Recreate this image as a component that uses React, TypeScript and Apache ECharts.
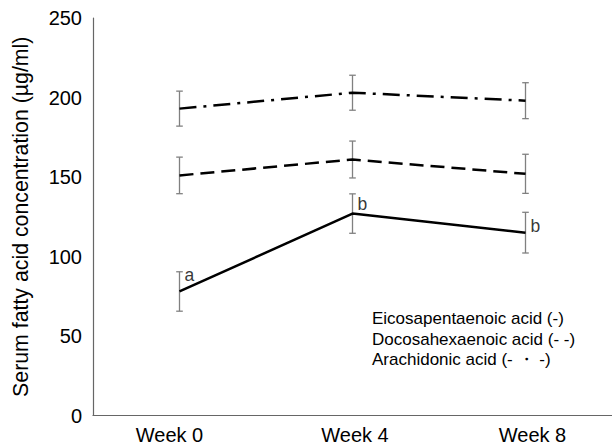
import React, { useEffect, useRef } from "react";
import * as echarts from "echarts";

const categories = ["Week 0", "Week 4", "Week 8"];
const epa = [78, 127, 115];
const epaSd = [12.4, 12.4, 12.8];
const dha = [151, 161, 152];
const dhaSd = [11.5, 11.6, 12.3];
const ara = [193, 203, 198];
const araSd = [11, 11, 11.3];
const letters = ["a", "b", "b"];
const letterY = [88.5, 133, 119];
const legendLines = [
  "Eicosapentaenoic acid (-)",
  "Docosahexaenoic acid (- -)",
  "Arachidonic acid (- \u30FB -)",
];

const FONT = "'Liberation Sans', Arial, Helvetica, sans-serif";

function errSeries(means: number[], sds: number[]) {
  return {
    type: "custom",
    z: 1,
    silent: true,
    data: means.map((m, i) => [i, m - sds[i], m + sds[i]]),
    renderItem: (params: any, api: any) => {
      const lo = api.coord([api.value(0), api.value(1)]);
      const hi = api.coord([api.value(0), api.value(2)]);
      const w = 3.3;
      const style = { stroke: "#808080", lineWidth: 1.3 };
      return {
        type: "group",
        children: [
          { type: "line", shape: { x1: lo[0], y1: lo[1], x2: hi[0], y2: hi[1] }, style },
          { type: "line", shape: { x1: lo[0] - w, y1: lo[1], x2: lo[0] + w, y2: lo[1] }, style },
          { type: "line", shape: { x1: hi[0] - w, y1: hi[1], x2: hi[0] + w, y2: hi[1] }, style },
        ],
      };
    },
  };
}

function lineSeries(name: string, data: number[], dash: any) {
  return {
    name,
    type: "line",
    z: 3,
    data,
    symbol: "none",
    lineStyle: { color: "#000", width: 2.5, type: dash, cap: "butt" },
  };
}

export default function App() {
  const ref = useRef<HTMLDivElement>(null);
  useEffect(() => {
    const chart = echarts.init(ref.current!, null, { renderer: "svg" });
    chart.setOption({
      animation: false,
      backgroundColor: "#fff",
      grid: { left: 93, right: -4, top: 18, bottom: 29.5 },
      xAxis: {
        type: "category",
        data: categories,
        boundaryGap: true,
        axisLine: { lineStyle: { color: "#666", width: 1.2 } },
        axisTick: { show: false },
        axisLabel: {
          color: "#000",
          fontSize: 20,
          fontFamily: FONT,
          margin: 9,
          formatter: (v: string, i: number) => `{l${i}|${v}}`,
          rich: {
            l0: { fontSize: 20, fontFamily: FONT, color: "#000", padding: [0, 20, 0, 0] },
            l1: { fontSize: 20, fontFamily: FONT, color: "#000", padding: [0, 0, 0, 5] },
            l2: { fontSize: 20, fontFamily: FONT, color: "#000", padding: [0, 0, 0, 14] },
          },
        },
      },
      yAxis: {
        type: "value",
        min: 0,
        max: 250,
        interval: 50,
        name: "Serum fatty acid concentration (\u00B5g/ml)",
        nameLocation: "middle",
        nameGap: 62,
        nameTextStyle: { color: "#000", fontSize: 21.3, fontFamily: FONT },
        splitLine: { show: false },
        axisLine: { show: true, lineStyle: { color: "#666", width: 1.2 } },
        axisTick: { show: false },
        axisLabel: { color: "#000", fontSize: 20, fontFamily: FONT, margin: 11, padding: [4, 0, 0, 0] },
      },
      series: [
        errSeries(epa, epaSd),
        errSeries(dha, dhaSd),
        errSeries(ara, araSd),
        lineSeries("Eicosapentaenoic acid", epa, "solid"),
        lineSeries("Docosahexaenoic acid", dha, [14, 7]),
        lineSeries("Arachidonic acid", ara, [17, 7, 3, 7]),
        {
          type: "scatter",
          symbolSize: 0,
          silent: true,
          data: letters.map((l, i) => ({ value: [i, letterY[i]], name: l })),
          label: {
            show: true,
            position: "right",
            distance: 5,
            formatter: (p: any) => p.name,
            color: "#000",
            fontSize: 17.5,
            fontFamily: FONT,
          },
        },
      ],
      graphic: legendLines.map((t, i) => ({
        type: "text",
        left: 372,
        top: 310 + i * 20.5,
        style: { text: t, fill: "#000", fontSize: 17, fontFamily: FONT },
      })),
    });
    return () => chart.dispose();
  }, []);
  return <div ref={ref} style={{ width: 612, height: 445, position: "absolute", left: 0, top: 0 }} />;
}
